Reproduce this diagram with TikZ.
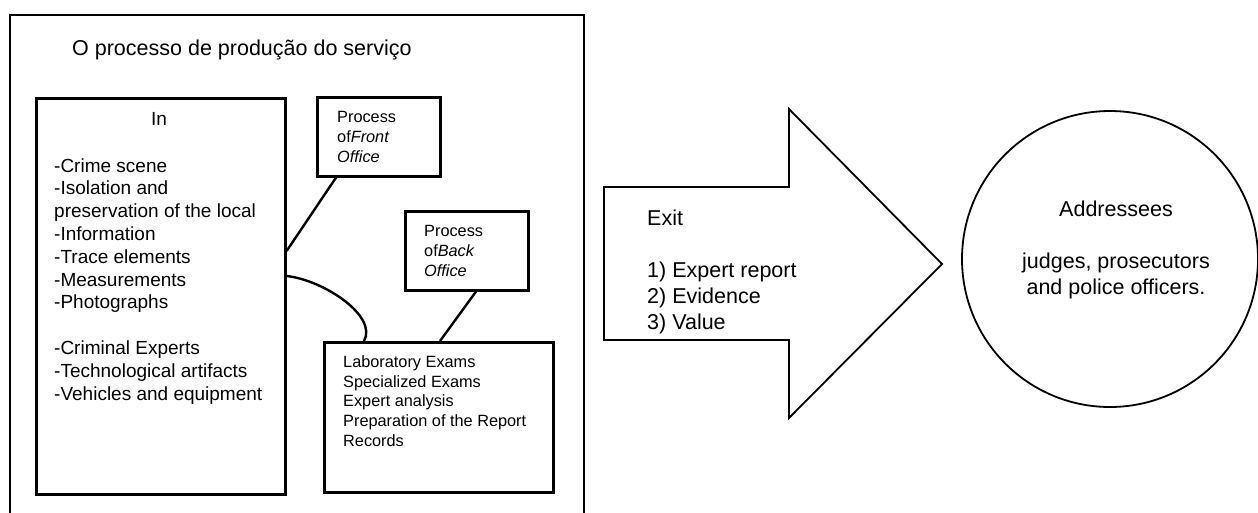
\documentclass[tikz,border=0pt]{standalone}
\usepackage{fontspec}
\setmainfont{Liberation Sans}
\usetikzlibrary{calc}
\begin{document}
\begin{tikzpicture}[x=1pt,y=-1pt,
  frame/.style={draw,line width=2.4pt,inner sep=0pt,anchor=north west},
  box/.style={draw,line width=2.6pt,inner sep=0pt,anchor=north west},
  conn/.style={line width=2.4pt},
  outline/.style={line width=1.8pt,line join=miter},
  txt/.style={inner sep=0pt,anchor=base west,align=left},
  big/.style={font=\fontsize{21.5}{26}\selectfont},
  mid/.style={font=\fontsize{19}{22.8}\selectfont},
  small/.style={font=\fontsize{16.3}{19.6}\selectfont}]
\useasboundingbox (0,0) rectangle (1258,512);

% process frame and its boxes (multi-line texts sit on the baseline of their last line)
\node[frame,minimum width=574pt,minimum height=502pt] (outer) at (9,14) {};
\node[txt,big] (title) at (72,55) {O processo de produção do serviço};

\node[box,minimum width=249pt,minimum height=396pt] (inbox) at (35,97) {};
\node[inner sep=0pt,anchor=base,mid] (inhead) at (159,125) {In};
\node[txt,mid] (inlist) at (54,400) {-Crime scene\\-Isolation and\\preservation of the local\\-Information\\-Trace elements\\-Measurements\\-Photographs\\[22.8pt]-Criminal Experts\\-Technological artifacts\\-Vehicles and equipment};

\node[box,minimum width=123pt,minimum height=79pt] (front) at (316,96) {};
\node[txt,small] (fronttext) at (337,162) {Process\\of\textit{Front}\\\textit{Office}};

\node[box,minimum width=123pt,minimum height=79pt] (back) at (404,210) {};
\node[txt,small] (backtext) at (424,276) {Process\\of\textit{Back}\\\textit{Office}};

\node[box,minimum width=229pt,minimum height=150pt] (tasks) at (323,341) {};
\node[txt,small] (taskstext) at (343,446) {Laboratory Exams\\Specialized Exams\\Expert analysis\\Preparation of the Report\\Records};

% connectors
\draw[conn] ([yshift=-154pt]inbox.north east) -- ([xshift=20pt]front.south west);
\draw[conn] ([yshift=-179pt]inbox.north east) .. controls +(37,4) and +(14,-25) .. ([xshift=41pt]tasks.north west);
\draw[conn] ([xshift=72pt]back.south west) -- ([xshift=117pt]tasks.north west);

% exit arrow
\draw[outline] (604,187) -- (789,187) -- (789,109) -- (942,264) -- (789,418) -- (789,340) -- (604,340) -- cycle;
\node[txt,big] (exit) at (647,329) {Exit\\[26pt]1) Expert report\\2) Evidence\\3) Value};

% addressees
\node[draw,circle,line width=1.8pt,minimum size=296pt,inner sep=0pt] (dest) at (1110,259) {};
\node[inner sep=0pt,anchor=base,align=center,big] (desttext) at (1116,294) {Addressees\\[26pt]judges, prosecutors\\and police officers.};
\end{tikzpicture}
\end{document}
